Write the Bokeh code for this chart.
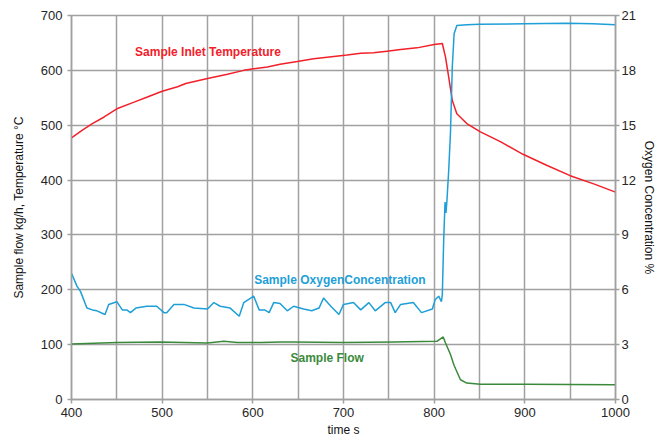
from bokeh.plotting import figure
from bokeh.models import Range1d, LinearAxis, FixedTicker, Label
from bokeh.embed import file_html
from bokeh.resources import INLINE

# ---- data ----
temp_t = [400, 412, 423, 436, 450, 469, 483, 500, 517, 526, 550, 572, 590, 601, 616, 630, 649, 667,
          682, 704, 719, 733, 748, 763, 781, 800, 809, 812.5, 816, 820, 825, 836, 851, 873, 898, 924,
          950, 976, 1000]
temp_v = [477, 491, 503, 515, 530, 542, 551, 562, 570, 576, 585, 593, 600, 603, 606, 611, 616, 621,
          624, 628, 631, 632, 635, 638, 641, 647, 649, 624, 588, 545, 521, 503, 488, 470, 447, 427,
          408, 393, 378]

o2_t = [400, 406, 410, 417, 423, 428, 437, 441, 450, 456, 461, 465, 471, 483, 494, 502, 505, 513,
        524, 535, 550, 557, 564, 575, 585, 590, 601, 607, 613, 618, 623, 630, 638, 645, 656, 665,
        673, 678, 686, 695, 700, 711, 719, 728, 735, 746, 752, 757, 763, 777, 786, 798, 801, 805,
        808, 809, 810.5, 812, 813, 814, 816, 818, 820, 822, 825, 836, 850, 900, 947, 975, 1000]
o2_v = [6.9, 6.2, 5.9, 5.0, 4.9, 4.85, 4.65, 5.2, 5.35, 4.9, 4.9, 4.75, 5.0, 5.1, 5.1, 4.75, 4.75,
        5.2, 5.2, 5.0, 4.95, 5.3, 5.1, 5.0, 4.55, 5.3, 5.65, 4.9, 4.9, 4.75, 5.3, 5.25, 4.85, 5.1,
        4.95, 4.85, 5.0, 5.55, 5.1, 4.65, 5.2, 5.3, 4.9, 5.3, 4.85, 5.3, 5.3, 4.75, 5.2, 5.3, 4.75,
        4.95, 5.45, 5.65, 5.35, 5.75, 8.7, 10.8, 10.2, 10.8, 12.5, 14.6, 18.2, 20.0, 20.45, 20.5,
        20.52, 20.55, 20.57, 20.55, 20.5]

flow_t = [400, 450, 498, 550, 568, 583, 609, 631, 645, 700, 755, 803, 810, 812.5, 818, 822, 829,
          836, 851, 900, 950, 998, 1000]
flow_v = [101, 104, 105, 103, 106, 104, 104, 105, 105, 104, 105, 106, 114, 103, 82, 62, 36,
          30, 28, 28, 27.5, 27, 27]

x_ticks = [400, 500, 600, 700, 800, 900, 1000]
x_minor = [450, 550, 650, 750, 850, 950]
y_ticks = [0, 100, 200, 300, 400, 500, 600, 700]
o2_ticks = [0, 3, 6, 9, 12, 15, 18, 21]

FONT = "Liberation Sans"
GRID = "#a0a0a0"
TICK_COL = "#262626"

p = figure(width=659, height=439, output_backend="svg", toolbar_location=None,
           x_range=Range1d(400, 1000), y_range=Range1d(0, 700))
p.min_border_left = 71
p.min_border_right = 44
p.min_border_top = 15
p.min_border_bottom = 39
p.outline_line_color = GRID
p.outline_line_width = 1.5
p.extra_y_ranges = {"o2": Range1d(0, 21)}

p.line(temp_t, temp_v, color="#f2202a", line_width=1.5)
p.line(flow_t, flow_v, color="#3b8a3b", line_width=1.5)
p.line(o2_t, o2_v, color="#1e9fd8", line_width=1.5, y_range_name="o2")

# axes
p.xaxis.ticker = FixedTicker(ticks=x_ticks, minor_ticks=x_minor)
p.yaxis.ticker = FixedTicker(ticks=y_ticks)
p.xaxis.axis_label = "time s"
p.yaxis.axis_label = "Sample flow kg/h, Temperature °C"

right = LinearAxis(y_range_name="o2", ticker=FixedTicker(ticks=o2_ticks),
                   axis_label="Oxygen Concentration %")
p.add_layout(right, "right")

for ax in [p.xaxis[0], p.yaxis[0], right]:
    ax.axis_line_color = GRID
    ax.axis_line_width = 1.5
    ax.major_tick_line_color = GRID
    ax.major_tick_line_width = 1.5
    ax.major_tick_in = 0
    ax.major_tick_out = 4
    ax.minor_tick_line_color = None
    ax.major_label_text_font = FONT
    ax.major_label_text_font_size = "13px"
    ax.major_label_text_color = TICK_COL
    ax.axis_label_text_font = FONT
    ax.axis_label_text_font_size = "12px"
    ax.axis_label_text_font_style = "normal"
    ax.axis_label_text_color = "#111111"
    ax.major_label_standoff = 3
    ax.axis_label_standoff = 4

p.yaxis[0].major_label_standoff = 5
p.yaxis[0].axis_label_standoff = 12
right.major_label_standoff = 2
right.axis_label_standoff = 3
p.xaxis[0].major_label_standoff = 4
p.xaxis[0].axis_label_standoff = 3

p.xgrid.grid_line_color = GRID
p.xgrid.grid_line_width = 1.5
p.xgrid.minor_grid_line_color = GRID
p.xgrid.minor_grid_line_width = 1.5
p.ygrid.grid_line_color = GRID
p.ygrid.grid_line_width = 1.5

for txt, x, y, col in [("Sample Inlet Temperature", 550.5, 633, "#f2202a"),
                       ("Sample OxygenConcentration", 696, 218, "#1e9fd8"),
                       ("Sample Flow", 682, 75, "#3b8a3b")]:
    p.add_layout(Label(x=x, y=y, text=txt, text_color=col, text_font=FONT,
                       text_font_size="12px", text_font_style="bold",
                       text_align="center", text_baseline="middle"))

open("out.html", "w").write(file_html(p, INLINE))
